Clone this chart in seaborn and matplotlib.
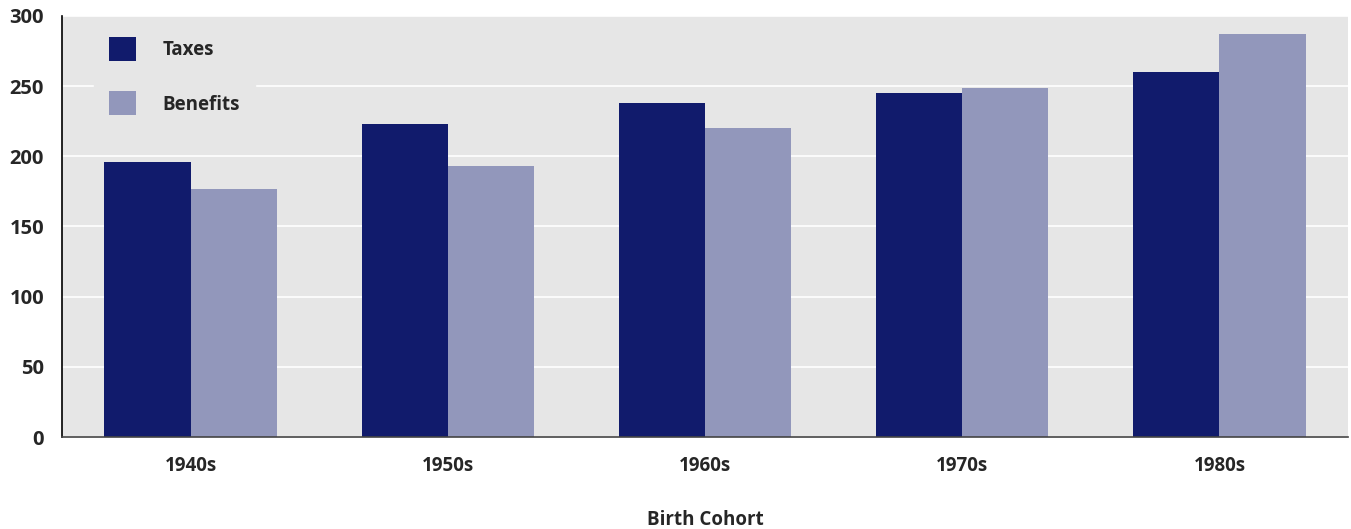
import pandas as pd
import matplotlib.pyplot as plt
import seaborn as sns

cohorts = ['1940s', '1950s', '1960s', '1970s', '1980s']
taxes = [196, 223, 238, 245, 260]
benefits = [177, 193, 220, 249, 287]
yticks = [0, 50, 100, 150, 200, 250, 300]

df = pd.DataFrame({
    'cohort': cohorts * 2,
    'value': taxes + benefits,
    'series': ['Taxes'] * len(cohorts) + ['Benefits'] * len(cohorts),
})

sns.set_style('darkgrid', {'axes.facecolor': '#e6e6e6', 'grid.color': 'white'})
plt.rcParams['font.family'] = ['Open Sans', 'DejaVu Sans']
plt.rcParams['font.weight'] = 'bold'

fig = plt.figure(figsize=(13.51, 5.29), dpi=100)
ax = fig.add_axes([0.0459, 0.1739, 0.9519, 0.7959])

sns.barplot(data=df, x='cohort', y='value', hue='series',
            palette={'Taxes': '#111b6c', 'Benefits': '#9297bb'},
            width=0.67, saturation=1, linewidth=0, edgecolor='none', ax=ax)

ax.set_xlim(-0.5, 4.5)
ax.set_ylim(0, 300)
ax.set_yticks(yticks)
ax.grid(axis='x', visible=False)
ax.grid(axis='y', color='white', linewidth=1.2)

for s in ['top', 'right']:
    ax.spines[s].set_visible(False)
ax.spines['left'].set_visible(True)
ax.spines['left'].set_color('black')
ax.spines['left'].set_linewidth(1.2)
ax.spines['bottom'].set_visible(True)
ax.spines['bottom'].set_color('#444444')
ax.spines['bottom'].set_linewidth(1.2)

ax.tick_params(axis='y', direction='out', length=7, width=1.2, color='black',
               labelsize=14.5, pad=6)
ax.tick_params(axis='x', length=0, labelsize=13.5, pad=14)
for lbl in ax.get_xticklabels() + ax.get_yticklabels():
    lbl.set_fontweight('bold')

ax.set_ylabel('')
ax.set_xlabel('Birth Cohort', fontsize=13.5, fontweight='bold', labelpad=24)

leg = ax.legend(loc='upper left', bbox_to_anchor=(0.025, 0.985), frameon=True,
                facecolor='#e6e6e6', edgecolor='#e6e6e6', framealpha=1,
                fontsize=13.5, handlelength=1.45, handleheight=1.6,
                handletextpad=1.4, labelspacing=1.6, borderpad=0.8,
                borderaxespad=0, fancybox=False)
for t in leg.get_texts():
    t.set_fontweight('bold')

fig.savefig('out.png', dpi=100)
